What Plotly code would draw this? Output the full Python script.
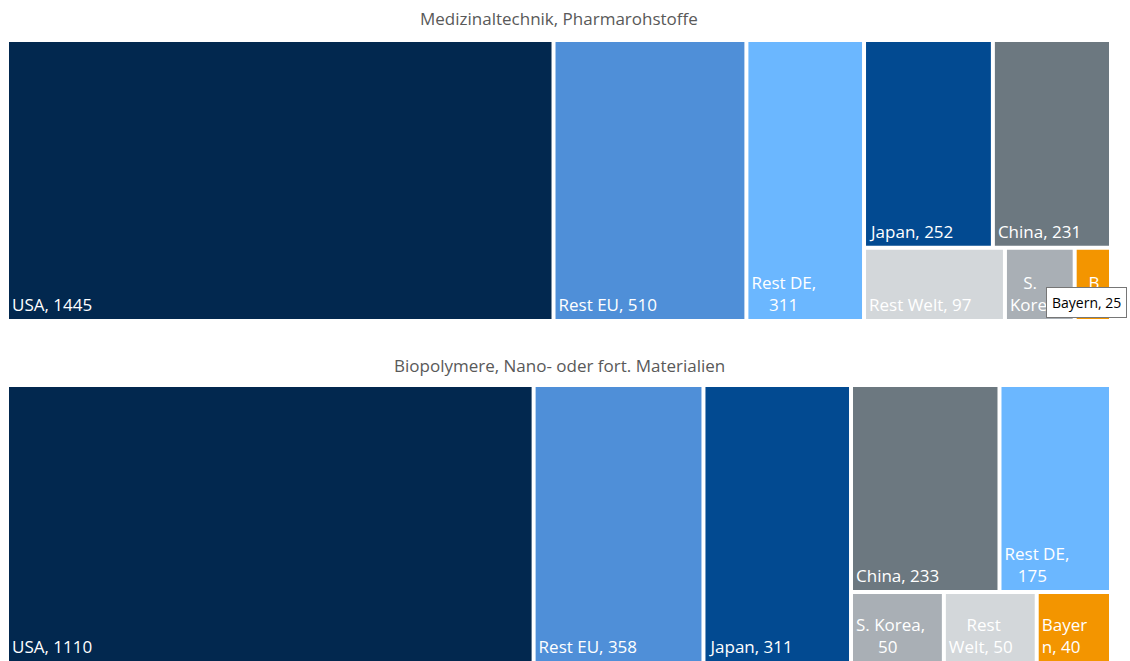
import plotly.graph_objects as go

# ---------------- data ----------------
top_title = "Medizinaltechnik, Pharmarohstoffe"
top_labels = ["USA", "Rest EU", "Rest DE", "Japan", "China", "Rest Welt", "S. Korea", "Bayern"]
top_values = [1445, 510, 311, 252, 231, 97, 48, 25]
top_texts = ["USA, 1445", "Rest EU, 510", "Rest DE,<br>\u00a0\u00a0\u00a0\u00a0311", "Japan, 252",
             "China, 231", "Rest Welt, 97", "\u00a0\u00a0\u00a0S.<br>Korea, 48", "\u00a0\u00a0B<br>\u00a0"]

bot_title = "Biopolymere, Nano- oder fort. Materialien"
bot_labels = ["USA", "Rest EU", "Japan", "China", "Rest DE", "S. Korea", "Rest Welt", "Bayern"]
bot_values = [1110, 358, 311, 233, 175, 50, 50, 40]
bot_texts = ["USA, 1110", "Rest EU, 358", "Japan, 311", "China, 233",
             "Rest DE,<br>\u00a0\u00a0\u00a0175", "S. Korea,<br>\u00a0\u00a0\u00a0\u00a0\u00a050",
             "\u00a0\u00a0\u00a0\u00a0Rest<br>Welt, 50", "Bayer<br>n, 40"]

# tile arrangement: three full-height columns, then a column of two rows
structure = [0, 1, 2, [[3, 4], [5, 6, 7]]]

colors = {
    "USA": "#02284F",
    "Rest EU": "#4F8FD8",
    "Rest DE": "#6BB7FF",
    "Japan": "#024A91",
    "China": "#6C7880",
    "Rest Welt": "#D3D7DA",
    "S. Korea": "#A9AFB5",
    "Bayern": "#F39500",
}


def build(prefix, labels, values, texts):
    ids, lab, par, val, txt, col = [], [], [], [], [], []

    def leaf(i, parent):
        ids.append(f"{prefix}-{labels[i]}")
        lab.append(labels[i])
        par.append(parent)
        val.append(values[i])
        txt.append(texts[i])
        col.append(colors[labels[i]])

    for c, item in enumerate(structure):
        if isinstance(item, int):
            leaf(item, "")
        else:
            gid = f"{prefix}-g{c}"
            gsum = sum(values[i] for row in item for i in row)
            ids.append(gid); lab.append(gid); par.append(""); val.append(gsum)
            txt.append(""); col.append("#FFFFFF")
            for r, row in enumerate(item):
                rid = f"{gid}-r{r}"
                ids.append(rid); lab.append(rid); par.append(gid)
                val.append(sum(values[i] for i in row)); txt.append(""); col.append("#FFFFFF")
                for i in row:
                    leaf(i, rid)
    return ids, lab, par, val, txt, col


W, H = 1130, 661
x_dom = [9 / W, 1109 / W]
top_dom = [(H - 319) / H, (H - 42) / H]
bot_dom = [0, (H - 387) / H]

fig = go.Figure()
for prefix, labels, values, texts, dom in [
    ("t", top_labels, top_values, top_texts, top_dom),
    ("b", bot_labels, bot_values, bot_texts, bot_dom),
]:
    ids, lab, par, val, txt, col = build(prefix, labels, values, texts)
    fig.add_trace(go.Treemap(
        ids=ids, labels=lab, parents=par, values=val, text=txt,
        branchvalues="total", sort=False,
        texttemplate="%{text}", textposition="bottom left",
        textfont=dict(family="Open Sans", size=17, color="#FFFFFF"),
        marker=dict(colors=col, line=dict(width=0), pad=dict(t=0, l=0, r=0, b=0),
                    depthfade=False),
        tiling=dict(packing="slice-dice", pad=4),
        pathbar=dict(visible=False),
        hoverinfo="skip",
        domain=dict(x=x_dom, y=dom),
    ))

fig.add_annotation(text=top_title, x=0.4947, y=(H - 18) / H, xref="paper", yref="paper",
                   xanchor="center", yanchor="middle", showarrow=False,
                   font=dict(family="Open Sans", size=17, color="#595959"))
fig.add_annotation(text=bot_title, x=0.4947, y=(H - 365) / H, xref="paper", yref="paper",
                   xanchor="center", yanchor="middle", showarrow=False,
                   font=dict(family="Open Sans", size=17, color="#595959"))
# hover tooltip visible in the reference
fig.add_annotation(text="Bayern, 25", x=1046 / W, y=(H - 287) / H, xref="paper", yref="paper",
                   xanchor="left", yanchor="top", showarrow=False,
                   bgcolor="#FFFFFF", bordercolor="#767676", borderwidth=1, borderpad=5,
                   font=dict(family="Open Sans", size=14, color="#000000"))

fig.update_layout(width=W, height=H, margin=dict(l=0, r=0, t=0, b=0),
                  paper_bgcolor="#FFFFFF", plot_bgcolor="#FFFFFF",
                  uniformtext=dict(minsize=17, mode="show"))
fig.write_html("out.html")
